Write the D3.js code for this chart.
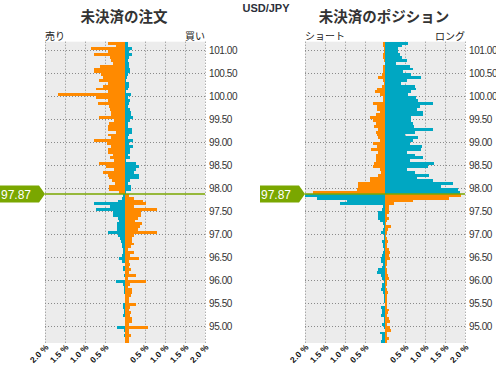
<!DOCTYPE html>
<html><head><meta charset="utf-8">
<script src="https://cdn.jsdelivr.net/npm/d3@7"></script>
<style>
body{margin:0;background:#fff}
svg{display:block}
text{font-family:Arial,"Liberation Sans",sans-serif}
.cjk{font-family:"Noto Sans CJK JP","Noto Sans CJK SC",sans-serif}
</style>
</head><body><svg id="c" width="496" height="365"></svg>
<script>
const pair = "USD/JPY";
const currentPrice = 97.87;
const bucketSize = 0.0625;

// bucket lower bounds, top to bottom
const bucketsAbove = [101.125,101.0625,101,100.9375,100.875,100.8125,100.75,100.6875,100.625,100.5625,100.5,100.4375,100.375,100.3125,100.25,100.1875,100.125,100.0625,100,99.9375,99.875,99.8125,99.75,99.6875,99.625,99.5625,99.5,99.4375,99.375,99.3125,99.25,99.1875,99.125,99.0625,99,98.9375,98.875,98.8125,98.75,98.6875,98.625,98.5625,98.5,98.4375,98.375,98.3125,98.25,98.1875,98.125,98.0625,98,97.9375,97.875];
const bucketsBelow = [97.8125,97.75,97.6875,97.625,97.5625,97.5,97.4375,97.375,97.3125,97.25,97.1875,97.125,97.0625,97,96.9375,96.875,96.8125,96.75,96.6875,96.625,96.5625,96.5,96.4375,96.375,96.3125,96.25,96.1875,96.125,96.0625,96,95.9375,95.875,95.8125,95.75,95.6875,95.625,95.5625,95.5,95.4375,95.375,95.3125,95.25,95.1875,95.125,95.0625,95,94.9375,94.875,94.8125,94.75,94.6875,94.625];

// Open orders (%): left side / right side
const orderLeftAbove = [0.43,0.22,0.85,0.43,0.78,0.38,0.35,0.29,0.63,0.78,0.78,0.6,0.54,0.65,0.43,0.54,0.73,0.43,1.67,0.73,0.43,0.67,0.4,0.38,0.35,0.35,0.65,0.28,0.4,0.43,0.43,0.22,0.43,0.35,0.78,0.46,0.35,0.43,0.43,0.3,0.38,0.28,0.65,0.48,0.28,0.54,0.43,0.4,0.33,0.25,0.4,0.4,0.14];
const orderRightAbove = [0.07,0.07,0.17,0.11,0.17,0.09,0.07,0.09,0.09,0.12,0.12,0.08,0.06,0.03,0.09,0.09,0.07,0.03,0.15,0.08,0.12,0.1,0.08,0.12,0.15,0.15,0.2,0.12,0.08,0.07,0.17,0.17,0.1,0.08,0.2,0.1,0.2,0.13,0.12,0.07,0.12,0.02,0.27,0.34,0.27,0.22,0.34,0.34,0.12,0.07,0.14,0.14,0.02];
const orderLeftBelow = [0.04,0.07,0.17,0.78,0.38,0.72,0.29,0.29,0.17,0.14,0.19,0.19,0.19,0.42,0.17,0.12,0.1,0.08,0.08,0.06,0.06,0.08,0.15,0.07,0,0.04,0.05,0,0.03,0,0.22,0.04,0.03,0.03,0.03,0,0,0,0.05,0.05,0.03,0.03,0.05,0,0,0,0.2,0.02,0,0.02,0,0];
const orderRightBelow = [0.1,0.22,0.44,0.52,0.22,0.79,0.39,0.39,0.32,0.25,0.42,0.37,0.32,0.79,0.22,0.17,0.17,0.22,0.15,0.07,0.22,0.12,0.35,0.1,0.12,0.1,0.15,0.1,0.27,0.07,0.52,0.12,0.07,0.17,0.17,0.15,0.09,0.09,0.27,0.12,0.09,0.15,0.12,0.17,0.17,0.09,0.57,0.09,0.09,0.15,0.1,0.1];

// Open positions (%): left side / right side
const positionLeftAbove = [0.04,0.04,0.03,0.03,0.04,0.04,0.03,0,0.04,0.04,0.04,0.08,0.17,0.06,0.03,0.08,0.19,0.25,0.12,0.06,0.06,0.29,0.19,0.19,0.12,0.22,0.37,0.29,0.23,0.27,0.17,0.22,0.19,0.17,0.12,0.29,0.21,0.36,0.17,0.22,0.22,0.23,0.27,0.29,0.12,0.11,0.17,0.37,0.37,0.67,0.67,0.69,1.81];
const positionRightAbove = [0.57,0.42,0.33,0.33,0.37,0.42,0.54,0.27,0.62,0.69,0.44,0.65,0.89,0.56,0.39,0.75,0.78,0.65,0.57,0.78,0.82,1.21,0.87,0.81,0.94,0.94,0.65,0.64,0.71,0.72,1.21,0.75,0.5,0.83,0.71,0.62,0.92,0.89,0.54,0.75,0.94,0.62,1.22,1.08,0.54,0.75,1.09,0.79,1.19,1.71,1.39,1.83,1.88];
const positionLeftBelow = [2.0,1.71,0.96,1.12,0.06,0.08,0.18,0.18,0.18,0.12,0.06,0.03,0.06,0.11,0.03,0.03,0.08,0.04,0.04,0.03,0.04,0.08,0.1,0.1,0.04,0.08,0.18,0.19,0.11,0.08,0.03,0.08,0.08,0.1,0.06,0.03,0.03,0.03,0,0.1,0.08,0.08,0.1,0.03,0.03,0.08,0.03,0,0.12,0.08,0.08,0.1];
const positionRightBelow = [1.9,1.6,0.69,0.23,0.11,0.11,0.11,0.06,0.11,0.06,0.03,0.14,0.08,0.04,0.03,0.04,0.08,0.04,0.06,0.09,0.12,0.11,0.12,0.06,0.04,0.03,0.06,0.06,0.08,0.09,0.04,0.04,0.03,0.06,0.08,0.04,0.04,0.06,0.06,0.04,0.09,0.08,0.06,0.11,0.12,0.04,0.13,0.14,0.04,0.06,0.09,0.04];

const xTicks = [-2,-1.5,-1,-0.5,0.5,1,1.5,2];
const xTickLabels = ["2.0 %","1.5 %","1.0 %","0.5 %","0.5 %","1.0 %","1.5 %","2.0 %"];
const yTicks = [101,100.5,100,99.5,99,98.5,98,97.5,97,96.5,96,95.5,95];
const yTickLabels = ["101.00","100.50","100.00","99.50","99.00","98.50","98.00","97.50","97.00","96.50","96.00","95.50","95.00"];

const ORANGE = "#ff8a00", TEAL = "#00a7c2", GREEN = "#7aa700";

const svg = d3.select("#c");
const plotTop = 41.7, plotBottom = 343;
const y = d3.scaleLinear().domain([94.625, 101.1875]).range([plotBottom, plotTop]);

svg.append("text").attr("x", 266).attr("y", 12).attr("text-anchor", "middle")
  .attr("font-size", 11).attr("font-weight", "bold").attr("fill", "#2b2f3a").text(pair);

const panels = [
  {title:"未決済の注文", lLabel:"売り", rLabel:"買い", la:orderLeftAbove, ra:orderRightAbove, lb:orderLeftBelow, rb:orderRightBelow, x0:45, cx:124, markX:0},
  {title:"未決済のポジション", lLabel:"ショート", rLabel:"ロング", la:positionLeftAbove, ra:positionRightAbove, lb:positionLeftBelow, rb:positionRightBelow, x0:305, cx:384, markX:260}
];

panels.forEach(p => {
  const g = svg.append("g");
  const x = d3.scaleLinear().domain([-2, 2]).range([p.x0, p.x0 + 160]);
  g.append("rect").attr("x", x(-2)).attr("y", plotTop).attr("width", x(2) - x(-2)).attr("height", plotBottom - plotTop).attr("fill", "#ececec");
  g.selectAll(".vg").data(xTicks).enter().append("line")
    .attr("x1", d => x(d) + 0.5).attr("x2", d => x(d) + 0.5).attr("y1", plotTop).attr("y2", plotBottom)
    .attr("stroke", "#8a8a8a").attr("stroke-dasharray", "1,2");
  g.selectAll(".hg").data(yTicks).enter().append("line")
    .attr("x1", x(-2)).attr("x2", x(2)).attr("y1", d => Math.round(y(d)) + 0.5).attr("y2", d => Math.round(y(d)) + 0.5)
    .attr("stroke", "#8a8a8a").attr("stroke-dasharray", "1,2");

  const rows = [];
  bucketsAbove.forEach((b, i) => { rows.push({b, v:p.la[i], side:-1, c:ORANGE}); rows.push({b, v:p.ra[i], side:1, c:TEAL}); });
  bucketsBelow.forEach((b, i) => { rows.push({b, v:p.lb[i], side:-1, c:TEAL}); rows.push({b, v:p.rb[i], side:1, c:ORANGE}); });
  g.selectAll(".bar").data(rows.filter(r => r.v > 0)).enter().append("rect")
    .attr("x", d => d.side < 0 ? x(-d.v) : x(0))
    .attr("width", d => Math.abs(x(d.v) - x(0)))
    .attr("y", d => y(d.b + bucketSize))
    .attr("height", d => y(d.b) - y(d.b + bucketSize))
    .attr("fill", d => d.c).attr("shape-rendering", "crispEdges");

  const py = y(currentPrice);
  g.append("line").attr("x1", x(-2)).attr("x2", x(2)).attr("y1", py).attr("y2", py)
    .attr("stroke", GREEN).attr("stroke-width", 1.5);
  const mx = p.markX, tip = x(-2);
  g.append("path").attr("d", `M${mx},${py-8.5}L${tip-6},${py-8.5}L${tip},${py}L${tip-6},${py+8.5}L${mx},${py+8.5}Z`).attr("fill", GREEN);
  g.append("text").attr("x", mx + 1).attr("y", py + 4.5).attr("font-size", 12).attr("fill", "#fff").text(currentPrice.toFixed(2));

  g.append("text").attr("class", "cjk").attr("x", p.cx).attr("y", 22).attr("text-anchor", "middle")
    .attr("font-size", 14.5).attr("font-weight", "bold").attr("fill", "#333").text(p.title);
  g.append("text").attr("class", "cjk").attr("x", x(-2)).attr("y", 40).attr("font-size", 10).attr("fill", "#222").text(p.lLabel);
  g.append("text").attr("class", "cjk").attr("x", x(2)).attr("y", 40).attr("text-anchor", "end").attr("font-size", 10).attr("fill", "#222").text(p.rLabel);

  g.selectAll(".yl").data(yTicks).enter().append("text")
    .attr("x", x(2) + 4).attr("y", d => y(d) + 4).attr("font-size", 10).attr("letter-spacing", -0.4).attr("fill", "#333")
    .text((d, i) => yTickLabels[i]);
  g.selectAll(".xl").data(xTicks).enter().append("text")
    .attr("transform", d => `translate(${x(d) + 4},${plotBottom + 5}) rotate(-45)`)
    .attr("text-anchor", "end").attr("font-size", 8.5).attr("font-weight", "bold").attr("fill", "#111")
    .text((d, i) => xTickLabels[i]);
});
</script>
</body></html>
